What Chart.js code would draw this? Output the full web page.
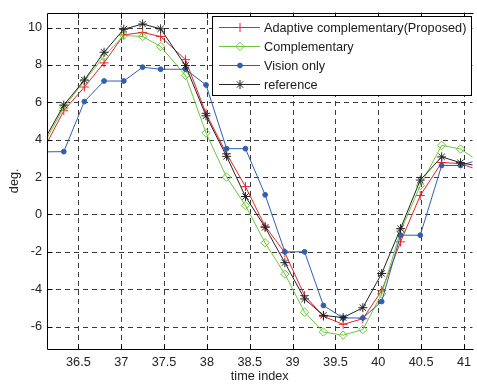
<!DOCTYPE html>
<html>
<head>
<meta charset="utf-8">
<script src="https://cdn.jsdelivr.net/npm/chart.js@4/dist/chart.umd.min.js"></script>
<style>
  html, body { margin: 0; padding: 0; background: #ffffff; }
  #wrap { width: 477px; height: 384px; }
</style>
</head>
<body>
<div id="wrap"><canvas id="c" width="477" height="384"></canvas></div>
<script>
// Sample times (shared by all series)
const timeIndex = [36.11, 36.33, 36.57, 36.80, 37.03, 37.25, 37.46, 37.75, 37.99, 38.23, 38.45, 38.68,
                   38.91, 39.14, 39.36, 39.59, 39.82, 40.04, 40.26, 40.49, 40.74, 40.96, 41.19];

// Angle estimates, deg.
const proposed      = [3.62, 5.55, 6.82, 8.11, 9.61, 9.74, 9.52, 8.28, 5.40, 3.25, 1.49, -0.63,
                       -2.05, -4.34, -5.45, -5.88, -5.58, -4.08, -1.47, 1.01, 2.78, 2.72, 2.35];
const complementary = [3.88, 5.72, 7.14, 8.46, 9.58, 9.52, 8.99, 7.44, 4.36, 2.00, 0.48, -1.52,
                       -3.19, -5.23, -6.29, -6.46, -6.16, -4.25, -0.90, 1.54, 3.70, 3.50, 2.80];
const visionOnly    = [3.35, 3.36, 6.04, 7.14, 7.14, 7.88, 7.77, 7.77, 6.93, 3.52, 3.52, 1.05,
                       -2.00, -2.00, -4.87, -5.54, -5.54, -4.66, -1.11, -1.11, 2.62, 2.62, 2.95];
const reference     = [4.05, 5.85, 7.19, 8.68, 9.91, 10.19, 9.93, 7.97, 5.28, 3.11, 0.96, -0.69,
                       -2.58, -4.52, -5.40, -5.52, -4.99, -3.16, -0.76, 1.84, 3.08, 2.77, 2.57];

const seriesNames = ['Adaptive complementary(Proposed)', 'Complementary', 'Vision only', 'reference'];

// Axis ticks
const xTicks = [36.5, 37, 37.5, 38, 38.5, 39, 39.5, 40, 40.5, 41];
const yTicks = [-6, -4, -2, 0, 2, 4, 6, 8, 10];

const X_MIN = 36.134, X_MAX = 41.10;
const Y_MIN = -7.2, Y_MAX = 10.8;
const FONT = { family: "'Liberation Sans', Arial, sans-serif", size: 12.7 };

function points(ys) {
  return timeIndex.map((x, i) => ({ x: x, y: ys[i] }));
}
// markers only for samples inside the visible time window
function markerSize(r) {
  return ctx => {
    const v = ctx.raw ? ctx.raw.x : null;
    return (v !== null && v >= X_MIN && v <= X_MAX) ? r : 0;
  };
}

const datasets = [
  { label: seriesNames[0], data: points(proposed), borderColor: '#e8232b', backgroundColor: '#e8232b',
    pointStyle: 'cross', pointRadius: markerSize(4.5), pointBorderWidth: 1, order: 3 },
  { label: seriesNames[1], data: points(complementary), borderColor: '#6cc83c', backgroundColor: 'rgba(0,0,0,0)',
    pointStyle: 'rectRot', pointRadius: markerSize(4.2), pointBorderWidth: 1, order: 2 },
  { label: seriesNames[2], data: points(visionOnly), borderColor: '#2f5fae', backgroundColor: '#2f5fae',
    pointStyle: 'circle', pointRadius: markerSize(2.4), pointBorderWidth: 1, order: 1 },
  { label: seriesNames[3], data: points(reference), borderColor: '#222222', backgroundColor: '#222222',
    pointStyle: 'star', pointRadius: markerSize(4.5), pointBorderWidth: 1, order: 0 }
];
datasets.forEach(d => {
  d.borderWidth = 1;
  d.tension = 0;
  d.clip = 0;
  d.pointHoverRadius = 0;
});

// dashed grid under the data
const gridPlugin = {
  id: 'dashedGrid',
  beforeDatasetsDraw(chart) {
    const { ctx, chartArea: a, scales: { x, y } } = chart;
    ctx.save();
    ctx.strokeStyle = '#3a3a3a';
    ctx.lineWidth = 1;
    ctx.setLineDash([5, 4]);
    xTicks.forEach(v => {
      const px = Math.round(x.getPixelForValue(v)) + 0.5;
      ctx.beginPath(); ctx.moveTo(px, a.bottom); ctx.lineTo(px, a.top); ctx.stroke();
    });
    yTicks.forEach(v => {
      const py = Math.round(y.getPixelForValue(v)) + 0.5;
      ctx.beginPath(); ctx.moveTo(a.left, py); ctx.lineTo(a.right, py); ctx.stroke();
    });
    ctx.restore();
  }
};

// axes box, inward ticks and the boxed legend
const framePlugin = {
  id: 'frameLegend',
  afterDatasetsDraw(chart) {
    const { ctx, chartArea: a, scales: { x, y } } = chart;
    const L = Math.round(a.left) + 0.5, T = Math.round(a.top) + 0.5, B = Math.round(a.bottom) + 0.5;
    ctx.save();
    ctx.strokeStyle = '#000000';
    ctx.lineWidth = 1;
    ctx.setLineDash([]);
    ctx.beginPath();
    ctx.moveTo(a.right + 1, T); ctx.lineTo(L, T); ctx.lineTo(L, B); ctx.lineTo(a.right + 1, B);
    ctx.stroke();
    const tl = 5;
    xTicks.forEach(v => {
      const px = Math.round(x.getPixelForValue(v)) + 0.5;
      ctx.beginPath(); ctx.moveTo(px, B); ctx.lineTo(px, B - tl); ctx.stroke();
      ctx.beginPath(); ctx.moveTo(px, T); ctx.lineTo(px, T + tl); ctx.stroke();
    });
    yTicks.forEach(v => {
      const py = Math.round(y.getPixelForValue(v)) + 0.5;
      ctx.beginPath(); ctx.moveTo(L, py); ctx.lineTo(L + tl, py); ctx.stroke();
    });

    // legend
    const box = { left: 212.5, top: 16.5, right: 471.5, bottom: 95.5 };
    ctx.fillStyle = '#ffffff';
    ctx.fillRect(box.left, box.top, box.right - box.left, box.bottom - box.top);
    ctx.strokeStyle = '#000000';
    ctx.strokeRect(box.left, box.top, box.right - box.left, box.bottom - box.top);
    const rowY = [27.5, 46.5, 65.5, 84.5];
    ctx.font = FONT.size + 'px ' + FONT.family;
    ctx.textBaseline = 'middle';
    ctx.textAlign = 'left';
    datasets.forEach((d, i) => {
      const yy = rowY[i];
      ctx.strokeStyle = d.borderColor;
      ctx.lineWidth = 1;
      ctx.beginPath(); ctx.moveTo(219, yy); ctx.lineTo(260, yy); ctx.stroke();
      ctx.fillStyle = d.backgroundColor;
      const r = d.pointRadius({ raw: { x: 38 } });
      Chart.helpers.drawPoint(ctx, { pointStyle: d.pointStyle, radius: r, rotation: 0, borderWidth: 1 }, 240, yy);
      ctx.fillStyle = '#1a1a1a';
      ctx.fillText(d.label, 264, yy + 0.5);
    });
    ctx.restore();
  }
};

new Chart(document.getElementById('c'), {
  type: 'scatter',
  data: { datasets: datasets },
  options: {
    responsive: false,
    animation: false,
    devicePixelRatio: 1,
    showLine: true,
    layout: { padding: { left: 0, right: 0, top: 9, bottom: 0 } },
    plugins: { legend: { display: false }, tooltip: { enabled: false } },
    events: [],
    scales: {
      x: {
        type: 'linear', min: X_MIN, max: X_MAX,
        afterBuildTicks: s => { s.ticks = xTicks.map(v => ({ value: v })); },
        afterFit: s => { s.height = 35; },
        grid: { display: false, drawTicks: false },
        border: { display: false },
        ticks: { autoSkip: false, maxRotation: 0, padding: 6, color: '#222222', font: FONT,
                 callback: v => String(v) },
        title: { display: true, text: 'time index', color: '#222222', font: FONT, padding: 0 }
      },
      y: {
        type: 'linear', min: Y_MIN, max: Y_MAX,
        afterBuildTicks: s => { s.ticks = yTicks.map(v => ({ value: v })); },
        afterFit: s => { s.width = 47; },
        grid: { display: false, drawTicks: false },
        border: { display: false },
        ticks: { padding: 5, color: '#222222', font: FONT, callback: v => String(v) },
        title: { display: true, text: 'deg.', color: '#222222', font: FONT, padding: { top: 7, bottom: 0 } }
      }
    }
  },
  plugins: [gridPlugin, framePlugin]
});
</script>
</body>
</html>
